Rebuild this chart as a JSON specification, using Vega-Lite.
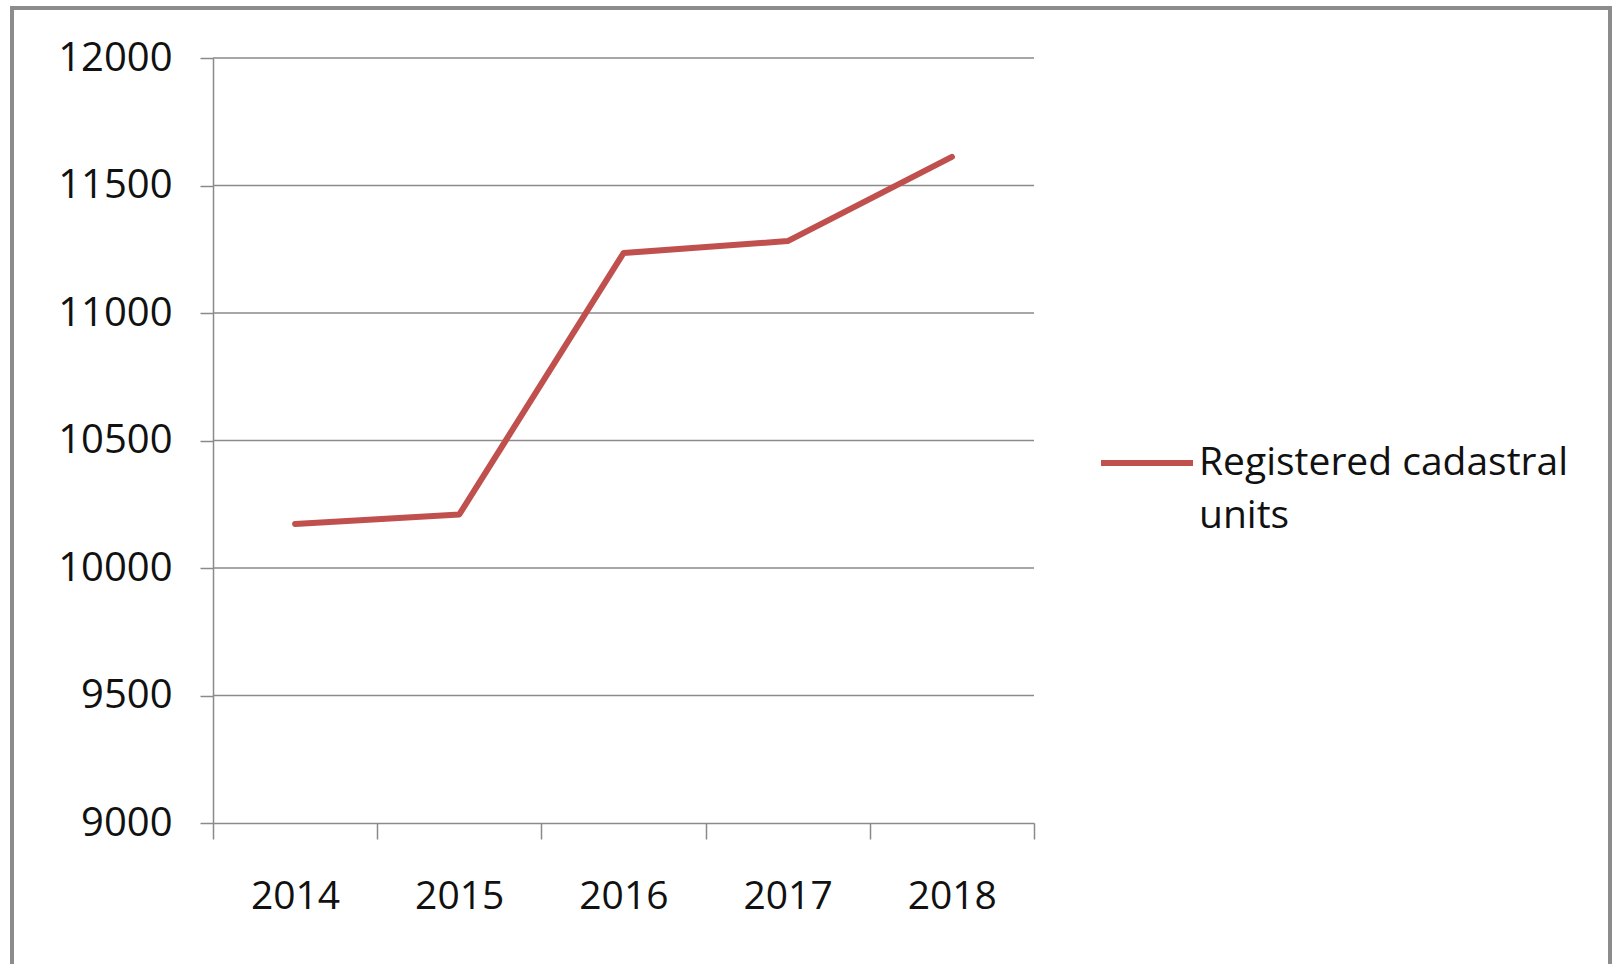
{
  "$schema": "https://vega.github.io/schema/vega-lite/v6.json",
  "width": 1598,
  "height": 960,
  "autosize": {"type": "none"},
  "padding": {"left": 12, "top": 8, "right": 6, "bottom": -4},
  "background": "white",
  "config": {
    "view": {"stroke": "#8c8c8c", "strokeWidth": 4},
    "font": "Open Sans",
    "style": {"guide-label": {"lineHeight": 53}}
  },
  "datasets": {
    "units": [
      {"year": 2014, "value": 10173, "series": "Registered cadastral units"},
      {"year": 2015, "value": 10210, "series": "Registered cadastral units"},
      {"year": 2016, "value": 11235, "series": "Registered cadastral units"},
      {"year": 2017, "value": 11282, "series": "Registered cadastral units"},
      {"year": 2018, "value": 11612, "series": "Registered cadastral units"}
    ],
    "grid": [
      {"v": 9500}, {"v": 10000}, {"v": 10500}, {"v": 11000}, {"v": 11500}, {"v": 12000}
    ]
  },
  "layer": [
    {
      "data": {"name": "grid"},
      "mark": {"type": "rule", "color": "#8a8a8a", "strokeWidth": 1.5},
      "encoding": {
        "y": {"field": "v", "type": "quantitative"},
        "x": {"datum": 2013.5, "type": "quantitative"},
        "x2": {"datum": 2018.5}
      }
    },
    {
      "data": {"name": "units"},
      "mark": {"type": "line", "strokeWidth": 6, "strokeCap": "round", "strokeJoin": "round"},
      "encoding": {
        "x": {
          "field": "year",
          "type": "quantitative",
          "scale": {"domain": [2013.5, 2018.5], "range": [201, 1022], "nice": false, "zero": false},
          "axis": {
            "orient": "bottom",
            "offset": -145,
            "title": null,
            "grid": false,
            "values": [2013.5, 2014.5, 2015.5, 2016.5, 2017.5, 2018.5],
            "labelExpr": "datum.value < 2018 ? '' + (datum.value + 0.5) : ''",
            "labelOffset": 82,
            "labelFlush": false,
            "labelOverlap": false,
            "labelFont": "Open Sans",
            "labelFontSize": 39,
            "labelColor": "#111111",
            "labelPadding": 38,
            "tickSize": 16,
            "tickWidth": 1.5,
            "tickColor": "#8a8a8a",
            "domainColor": "#8a8a8a",
            "domainWidth": 1.5
          }
        },
        "y": {
          "field": "value",
          "type": "quantitative",
          "scale": {"domain": [9000, 12000], "range": [815, 50], "nice": false, "zero": false},
          "axis": {
            "orient": "left",
            "offset": -201,
            "title": null,
            "grid": false,
            "values": [9000, 9500, 10000, 10500, 11000, 11500, 12000],
            "format": "d",
            "labelFont": "Open Sans",
            "labelFontSize": 40,
            "labelColor": "#111111",
            "labelPadding": 28,
            "tickSize": 13,
            "tickWidth": 1.5,
            "tickColor": "#8a8a8a",
            "domainColor": "#8a8a8a",
            "domainWidth": 1.5
          }
        },
        "color": {
          "field": "series",
          "type": "nominal",
          "scale": {"range": ["#C0504D"]},
          "legend": {
            "orient": "none",
            "legendX": 1086,
            "legendY": 406,
            "title": null,
            "symbolType": "stroke",
            "symbolSize": 8464,
            "symbolStrokeWidth": 6,
            "labelFont": "Open Sans",
            "labelFontSize": 39,
            "labelColor": "#111111",
            "labelLimit": 700,
            "labelOffset": 3,
            "labelBaseline": "middle",
            "labelExpr": "['Registered cadastral', 'units']"
          }
        }
      }
    }
  ]
}
